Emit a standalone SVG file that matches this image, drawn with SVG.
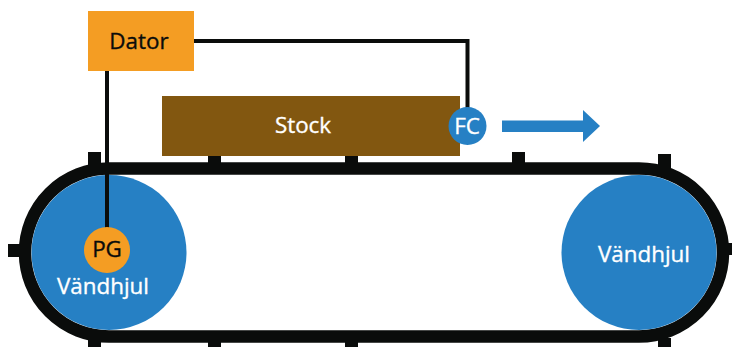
<svg xmlns="http://www.w3.org/2000/svg" width="732" height="347" viewBox="0 0 732 347">
<style>
.t{font-family:"Open Sans","Noto Sans","Liberation Sans",sans-serif;font-size:22.400px;text-anchor:middle;stroke-width:0.350}
.w{fill:#fff;stroke:#fff}.k{fill:#0a0c0b;stroke:#0a0c0b}
.wheel{fill:#2680c4}.or{fill:#f49d23}
.tick{fill:#0a0c0b}
.wire{fill:none;stroke:#0a0c0b;stroke-width:4}
</style>
<g id="belt">
<rect x="25" y="168.500" width="698" height="168" rx="84" ry="84" fill="none" stroke="#0a0c0b" stroke-width="12.500"/>
<g class="tick">
<rect x="88" y="152" width="13" height="14"/><rect x="208" y="155" width="13" height="10"/><rect x="345" y="155" width="13" height="10"/><rect x="512" y="152" width="13" height="14"/><rect x="658" y="154" width="13" height="14"/>
<rect x="88" y="338" width="13" height="9"/><rect x="208" y="338" width="13" height="9"/><rect x="345" y="338" width="13" height="9"/><rect x="658" y="338" width="13" height="9"/>
<rect x="8" y="244" width="14" height="13"/><rect x="726" y="243" width="6" height="12"/>
</g>
</g>
<g id="wheel-left"><circle class="wheel" cx="109" cy="252.500" r="77.500"/><text class="t w" x="103" y="294">Vändhjul</text></g>
<g id="wheel-right"><circle class="wheel" cx="639" cy="252.500" r="77.500"/><text class="t w" x="644" y="262">Vändhjul</text></g>
<g id="stock"><rect x="162" y="96" width="298" height="60" fill="#825710"/><text class="t w" x="303" y="133">Stock</text></g>
<g id="connectors">
<path class="wire" d="M194 41H467.500V108"/>
<path class="wire" d="M107 71V230"/>
</g>
<g id="dator"><rect class="or" x="88" y="11" width="106" height="60"/><text class="t k" x="139" y="49">Dator</text></g>
<g id="fc"><circle class="wheel" cx="467.500" cy="126" r="19"/><text class="t w" x="467" y="134">FC</text></g>
<g id="pg"><circle class="or" cx="107" cy="250" r="23"/><text class="t k" x="107" y="257">PG</text></g>
<g id="arrow"><polygon points="502,120.500 583,120.500 583,110 600,126 583,142 583,132 502,132" fill="#2680c4"/></g>
</svg>
